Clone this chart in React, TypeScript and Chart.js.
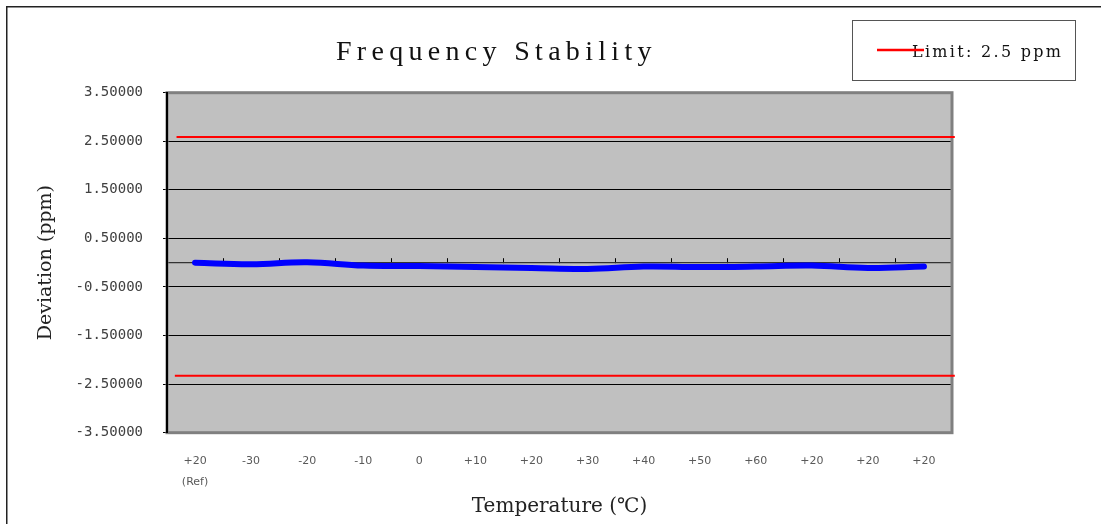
import React, { useEffect, useRef } from "react";
import { Chart, registerables } from "chart.js";

Chart.register(...registerables);

// ---- data ----
const TITLE = "Frequency Stability";
const X_TITLE = "Temperature (℃)";
const Y_TITLE = "Deviation (ppm)";
const CATEGORIES: (string | string[])[] = [
  ["+20", "(Ref)"], "-30", "-20", "-10", "0", "+10", "+20", "+30", "+40", "+50", "+60", "+20", "+20", "+20",
];
const DEVIATION = [0.0, -0.03, 0.01, -0.06, -0.07, -0.09, -0.11, -0.13, -0.08, -0.09, -0.08, -0.06, -0.11, -0.08];
const LIMIT_LABEL = "Limit: 2.5 ppm";
const LIMIT_UPPER = [2.59, 2.59];
const LIMIT_LOWER = [-2.33, -2.33];
const LIMIT_UPPER_X = [-0.33, 13.55];
const LIMIT_LOWER_X = [-0.36, 13.55];
const Y_MIN = -3.5;
const Y_MAX = 3.5;
const Y_STEP = 1;

const W = 1101;
const H = 524;

const backgroundPlugin = {
  id: "bgFrame",
  beforeDraw(chart: any) {
    const { ctx, chartArea } = chart;
    ctx.save();
    ctx.fillStyle = "#ffffff";
    ctx.fillRect(0, 0, chart.width, chart.height);
    ctx.strokeStyle = "#222222";
    ctx.lineWidth = 1.5;
    ctx.strokeRect(6.75, 6.75, chart.width + 100, chart.height + 100);
    ctx.fillStyle = "#C0C0C0";
    ctx.fillRect(chartArea.left, chartArea.top, chartArea.right - chartArea.left, chartArea.bottom - chartArea.top);
    ctx.restore();
  },
  beforeDatasetsDraw(chart: any) {
    const { ctx, chartArea } = chart;
    ctx.save();
    ctx.strokeStyle = "#808080";
    ctx.lineWidth = 3;
    ctx.strokeRect(chartArea.left, chartArea.top, chartArea.right - chartArea.left, chartArea.bottom - chartArea.top);
    ctx.restore();
  },
};

const titleLegendPlugin = {
  id: "titleLegend",
  afterDraw(chart: any) {
    const { ctx } = chart;
    ctx.save();
    // title
    ctx.font = '28px "Liberation Serif"';
    (ctx as any).letterSpacing = "5.3px";
    ctx.fillStyle = "#111111";
    ctx.textAlign = "left";
    ctx.textBaseline = "alphabetic";
    ctx.fillText(TITLE, 336, 60);
    // legend box
    (ctx as any).letterSpacing = "2.3px";
    ctx.strokeStyle = "#555555";
    ctx.lineWidth = 1;
    ctx.strokeRect(852.5, 20.5, 223, 60);
    const ds = chart.data.datasets[1];
    ctx.font = '16px "DejaVu Serif"';
    ctx.fillStyle = "#111111";
    ctx.textBaseline = "alphabetic";
    ctx.fillText(ds.label, 912, 57);
    (ctx as any).letterSpacing = "0px";
    ctx.strokeStyle = ds.borderColor;
    ctx.lineWidth = 2.5;
    ctx.beginPath();
    ctx.moveTo(877, 50);
    ctx.lineTo(924, 50);
    ctx.stroke();
    ctx.restore();
  },
};

export default function App() {
  const ref = useRef<HTMLCanvasElement>(null);

  useEffect(() => {
    const canvas = ref.current;
    if (!canvas) return;
    const chart = new Chart(canvas, {
      type: "line",
      data: {
        labels: CATEGORIES as any,
        datasets: [
          {
            label: "Deviation",
            data: DEVIATION,
            xAxisID: "x",
            yAxisID: "y",
            borderColor: "#0000FF",
            backgroundColor: "#0000FF",
            borderWidth: 6,
            pointRadius: 0,
            pointHoverRadius: 0,
            tension: 0.4,
            borderCapStyle: "round",
            borderJoinStyle: "round",
            fill: false,
          } as any,
          {
            label: LIMIT_LABEL,
            data: LIMIT_UPPER_X.map((x, i) => ({ x, y: LIMIT_UPPER[i] })),
            xAxisID: "xr",
            yAxisID: "y",
            borderColor: "#FF0000",
            borderWidth: 2,
            pointRadius: 0,
            tension: 0,
            fill: false,
            clip: false,
          } as any,
          {
            label: LIMIT_LABEL,
            data: LIMIT_LOWER_X.map((x, i) => ({ x, y: LIMIT_LOWER[i] })),
            xAxisID: "xr",
            yAxisID: "y",
            borderColor: "#FF0000",
            borderWidth: 2,
            pointRadius: 0,
            tension: 0,
            fill: false,
            clip: false,
          } as any,
        ],
      },
      options: {
        responsive: false,
        animation: false,
        devicePixelRatio: 1,
        layout: { padding: { top: 92.7, right: 149, bottom: 0, left: 0 } },
        plugins: {
          legend: { display: false },
          title: { display: false },
          tooltip: { enabled: false },
        },
        scales: {
          x: {
            type: "category",
            position: "bottom",
            offset: true,
            grid: { display: false },
            border: { display: false },
            ticks: {
              color: "#595959",
              font: { family: "DejaVu Sans", size: 11, lineHeight: "21px" } as any,
              padding: 10,
              autoSkip: false,
              maxRotation: 0,
              minRotation: 0,
            },
            title: {
              display: true,
              text: X_TITLE,
              color: "#222222",
              font: { family: "DejaVu Serif", size: 20, lineHeight: 1.2 },
              padding: { top: 0, bottom: 5 },
            },
            afterFit: (s: any) => {
              s.height = 91.3;
            },
          } as any,
          x2: {
            type: "category",
            position: { y: 0 },
            offset: true,
            ticks: { display: false },
            grid: {
              display: true,
              drawOnChartArea: false,
              drawTicks: true,
              tickLength: -5,
              offset: true,
              color: "#000000",
              tickColor: "#000000",
              lineWidth: 1,
            },
            border: { display: true, color: "#333333", width: 1.2 },
          } as any,
          xr: {
            type: "linear",
            display: false,
            min: -0.5,
            max: CATEGORIES.length - 0.5,
          },
          y: {
            type: "linear",
            min: Y_MIN,
            max: Y_MAX,
            ticks: {
              stepSize: Y_STEP,
              callback: (v: any) => Number(v).toFixed(5),
              color: "#404040",
              font: { family: "DejaVu Sans Mono", size: 14 },
              padding: 20,
            },
            grid: { color: "#000000", lineWidth: 1, tickLength: 4, tickColor: "#000000" },
            border: { display: true, color: "#000000", width: 2, z: 1 },
            title: {
              display: true,
              text: Y_TITLE,
              color: "#222222",
              font: { family: "DejaVu Serif", size: 19, lineHeight: 1.2 },
              padding: { top: 35, bottom: 0 },
            },
            afterFit: (s: any) => {
              s.width = 167;
            },
          } as any,
        },
      },
      plugins: [backgroundPlugin, titleLegendPlugin],
    });
    return () => chart.destroy();
  }, []);

  return (
    <div style={{ position: "absolute", left: 0, top: 0, width: W, height: H, background: "#fff" }}>
      <canvas ref={ref} width={W} height={H} style={{ width: W, height: H, display: "block" }} />
    </div>
  );
}
